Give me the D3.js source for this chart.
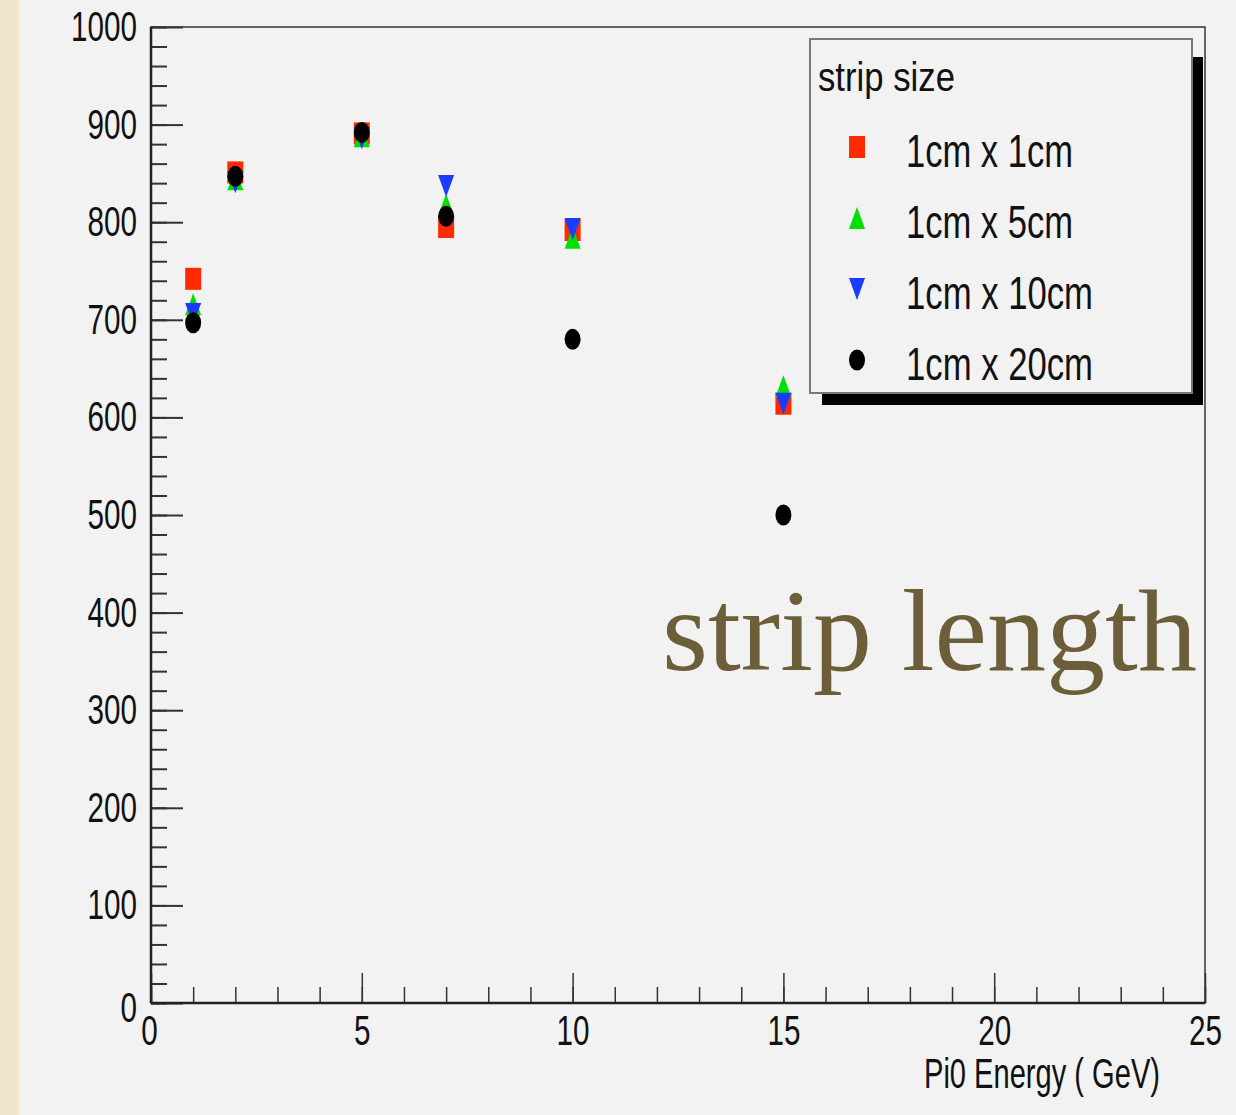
<!DOCTYPE html>
<html>
<head>
<meta charset="utf-8">
<script src="https://cdn.jsdelivr.net/npm/d3@7"></script>
<style>
  html, body { margin: 0; padding: 0; background: #f2f2f2; }
  svg { display: block; }
</style>
</head>
<body>
<svg id="chart"></svg>
<script>
// Данные: энергия пиона и величина для каждого размера полоски
const energies = [1, 2, 5, 7, 10, 15];
const seriesNames = ['1cm x 1cm', '1cm x 5cm', '1cm x 10cm', '1cm x 20cm'];
const series1x1 = [742, 851, 891, 795, 792, 614];
const series1x5 = [716, 844, 888, 818, 784, 632];
const series1x10 = [706, 841, 886, 837, 793, 614];
const series1x20 = [697, 847, 892, 806, 680, 500];
const xTicks = [0, 5, 10, 15, 20, 25];
const yTicks = [0, 100, 200, 300, 400, 500, 600, 700, 800, 900, 1000];

const W = 1236, H = 1115;
const margin = { left: 151, top: 27, right: 31, bottom: 112 };
const font = '"Liberation Sans", Arial, sans-serif';
const digitW = 16.5; // узкий шрифт ROOT: ширина одной цифры

const svg = d3.select('#chart').attr('width', W).attr('height', H);

// фон: бежевая полоса слева
svg.append('rect').attr('width', W).attr('height', H).attr('fill', '#f2f2f2');
svg.append('rect').attr('x', 0).attr('y', 0).attr('width', 19).attr('height', H).attr('fill', '#f0e6cc');

const x = d3.scaleLinear().domain([0, 25]).range([margin.left, W - margin.right]);
const y = d3.scaleLinear().domain([0, 1000]).range([H - margin.bottom, margin.top]);

// сжимаем текст по ширине
function squeeze(sel, width) {
  sel.attr('textLength', width).attr('lengthAdjust', 'spacingAndGlyphs');
}

// рамка графика
svg.append('rect')
  .attr('x', x(0)).attr('y', y(1000))
  .attr('width', x(25) - x(0)).attr('height', y(0) - y(1000))
  .attr('fill', 'none').attr('stroke', '#333').attr('stroke-width', 1.5);

// оси: мелкие деления
svg.append('g')
  .attr('transform', `translate(${x(0)},0)`)
  .call(d3.axisLeft(y).tickValues(d3.range(0, 1001, 20)).tickSize(-16).tickSizeOuter(0).tickFormat(''))
  .call(g => g.select('.domain').remove())
  .selectAll('line').attr('stroke', '#333').attr('stroke-width', 2);

svg.append('g')
  .attr('transform', `translate(0,${y(0)})`)
  .call(d3.axisBottom(x).tickValues(d3.range(0, 26, 1)).tickSize(-16).tickSizeOuter(0).tickFormat(''))
  .call(g => g.select('.domain').remove())
  .selectAll('line').attr('stroke', '#333').attr('stroke-width', 1.5);

// оси: крупные деления и подписи
const yAxis = svg.append('g')
  .attr('transform', `translate(${x(0)},0)`)
  .call(d3.axisLeft(y).tickValues(yTicks).tickSize(-32).tickSizeOuter(0).tickPadding(14).tickFormat(d3.format('d')))
  .call(g => g.select('.domain').remove());
yAxis.selectAll('line').attr('stroke', '#333').attr('stroke-width', 2);
yAxis.selectAll('text')
  .attr('font-size', 42).attr('font-family', font).attr('fill', '#111')
  .each(function (d) { squeeze(d3.select(this), String(d).length * digitW); });
yAxis.select('.tick text').attr('dy', '0.45em');

const xAxis = svg.append('g')
  .attr('transform', `translate(0,${y(0)})`)
  .call(d3.axisBottom(x).tickValues(xTicks).tickSize(-30).tickSizeOuter(0).tickPadding(12).tickFormat(d3.format('d')))
  .call(g => g.select('.domain').remove());
xAxis.selectAll('line').attr('stroke', '#333').attr('stroke-width', 1.5);
xAxis.selectAll('text')
  .attr('font-size', 42).attr('font-family', font).attr('fill', '#111')
  .each(function (d) { squeeze(d3.select(this), String(d).length * digitW); });
xAxis.select('.tick text').attr('dx', -2);

// основные линии осей
svg.append('line').attr('x1', x(0)).attr('x2', x(0)).attr('y1', y(0)).attr('y2', y(1000))
  .attr('stroke', '#222').attr('stroke-width', 2.5);
svg.append('line').attr('x1', x(0)).attr('x2', x(25)).attr('y1', y(0)).attr('y2', y(0))
  .attr('stroke', '#222').attr('stroke-width', 2.5);

// подпись оси X
svg.append('text')
  .attr('x', 924).attr('y', 1088)
  .attr('font-size', 42).attr('font-family', font).attr('fill', '#111')
  .text('Pi0 Energy ( GeV)')
  .call(squeeze, 236);

// маркеры (ширина 16, высота 22)
const mw = 8, mh = 11;
const shapes = {
  square: () => `M${-mw},${-mh}H${mw}V${mh}H${-mw}Z`,
  up: () => `M0,${-mh}L${mw},${mh}L${-mw},${mh}Z`,
  down: () => `M${-mw},${-mh}L${mw},${-mh}L0,${mh}Z`,
  circle: () => `M${-mw},0A${mw},${mh - 0.5} 0 1,0 ${mw},0A${mw},${mh - 0.5} 0 1,0 ${-mw},0Z`
};

const series = [
  { name: seriesNames[0], values: series1x1, color: '#ff2a00', shape: 'square', w: 167 },
  { name: seriesNames[1], values: series1x5, color: '#00e000', shape: 'up', w: 167 },
  { name: seriesNames[2], values: series1x10, color: '#1a3cff', shape: 'down', w: 187 },
  { name: seriesNames[3], values: series1x20, color: '#000000', shape: 'circle', w: 187 }
];

series.forEach(s => {
  svg.append('g').selectAll('path')
    .data(energies.map((e, i) => ({ e, v: s.values[i] })))
    .enter().append('path')
    .attr('transform', d => `translate(${x(d.e)},${y(d.v)})`)
    .attr('d', shapes[s.shape]())
    .attr('fill', s.color);
});

// легенда с тенью
const legend = svg.append('g');
legend.append('rect').attr('x', 822).attr('y', 57).attr('width', 381).attr('height', 348).attr('fill', '#000');
legend.append('rect').attr('x', 810).attr('y', 39).attr('width', 382).attr('height', 354)
  .attr('fill', '#f2f2f2').attr('stroke', '#777').attr('stroke-width', 2);
legend.append('text')
  .attr('x', 818).attr('y', 91).attr('font-size', 41).attr('font-family', font).attr('fill', '#111')
  .text('strip size')
  .call(squeeze, 137);

series.forEach((s, i) => {
  const cy = 147 + i * 71;
  legend.append('path')
    .attr('transform', `translate(857,${cy})`)
    .attr('d', shapes[s.shape]())
    .attr('fill', s.color);
  legend.append('text')
    .attr('x', 906).attr('y', cy + 20).attr('font-size', 47).attr('font-family', font).attr('fill', '#111')
    .text(s.name)
    .call(squeeze, s.w);
});

// аннотация
svg.append('text')
  .attr('x', 662).attr('y', 670)
  .attr('font-size', 116)
  .attr('font-family', '"Liberation Serif", "DejaVu Serif", serif')
  .attr('fill', '#6d5e3a')
  .text('strip length')
  .call(squeeze, 535);
</script>
</body>
</html>
